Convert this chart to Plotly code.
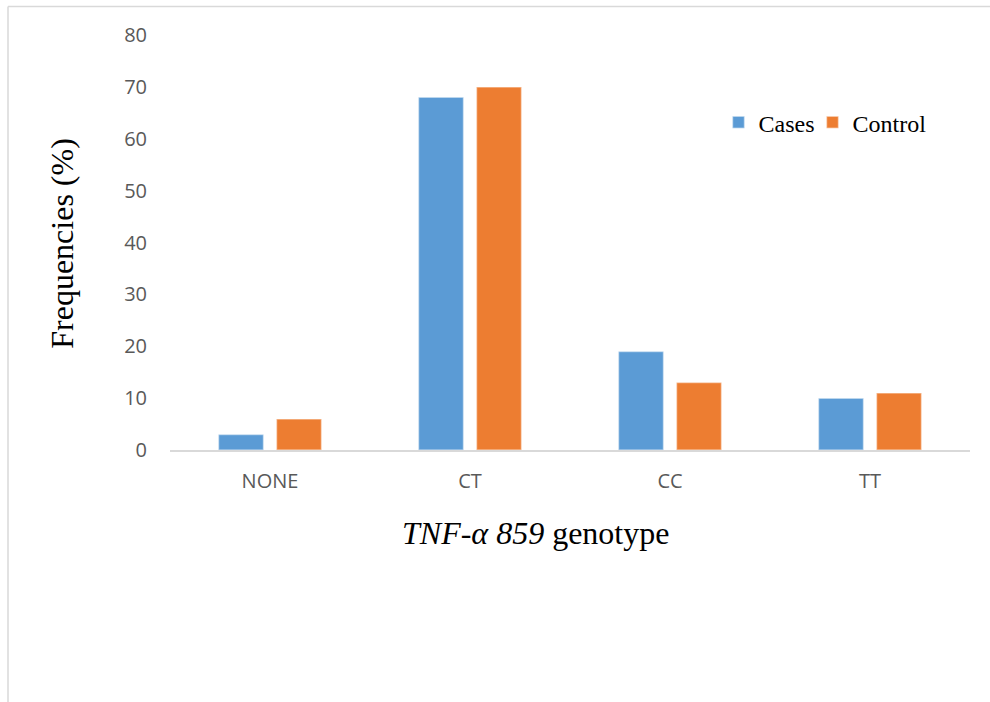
import plotly.graph_objects as go

# Genotype categories and frequency (%) per group
genotypes = ["NONE", "CT", "CC", "TT"]
cases = [3, 68, 19, 10]
control = [6, 70, 13, 11]
y_ticks = [0, 10, 20, 30, 40, 50, 60, 70, 80]

BLUE = "#5B9BD5"
ORANGE = "#ED7D31"
SERIF = "Liberation Serif, Times New Roman, serif"
SANS = "Open Sans, Calibri, sans-serif"

fig = go.Figure()
fig.add_trace(go.Bar(
    x=genotypes, y=cases, name="Cases", legend="legend",
    marker=dict(color=BLUE, line=dict(color="rgba(255,255,255,0.45)", width=1.5)),
))
fig.add_trace(go.Bar(
    x=genotypes, y=control, name="Control", legend="legend2",
    marker=dict(color=ORANGE, line=dict(color="rgba(255,255,255,0.45)", width=1.5)),
))

# frame lines along the top and left edge of the figure
fig.add_shape(type="line", xref="paper", yref="paper",
              x0=-0.2025, x1=1.03, y0=1.0688, y1=1.0688,
              line=dict(color="#d9d9d9", width=1.5))
fig.add_shape(type="line", xref="paper", yref="paper",
              x0=-0.2025, x1=-0.2025, y0=1.0688, y1=-0.61,
              line=dict(color="#d9d9d9", width=1.5))

fig.add_annotation(
    text="Frequencies (%)", textangle=-90, showarrow=False,
    xref="paper", yref="paper", x=(62 - 170) / 800, y=(450 - 244) / 414.5,
    xanchor="center", yanchor="middle",
    font=dict(family=SERIF, size=32, color="black"),
)
fig.add_annotation(
    text="<i>TNF-α 859</i> genotype", showarrow=False,
    xref="paper", yref="paper", x=(535 - 170) / 800, y=(450 - 533) / 414.5,
    xanchor="center", yanchor="middle",
    font=dict(family=SERIF, size=32, color="black"),
)

legend_style = dict(
    orientation="h", xanchor="left", yanchor="middle",
    y=(450 - 123) / 414.5,
    font=dict(family=SERIF, size=24, color="black"),
    itemwidth=30, bgcolor="rgba(0,0,0,0)",
)

fig.update_layout(
    width=990, height=702,
    margin=dict(l=170, r=20, t=35, b=252),
    paper_bgcolor="white", plot_bgcolor="white",
    barmode="group", bargap=0.42, bargroupgap=0.224,
    showlegend=True,
    legend=dict(x=(718.5 - 170) / 800, **legend_style),
    legend2=dict(x=(812.5 - 170) / 800, **legend_style),
    xaxis=dict(
        showgrid=False, zeroline=False, showline=True, linecolor="#d9d9d9", linewidth=1.5,
        ticks="", tickfont=dict(family=SANS, size=20, color="#595959"),
        ticklabelstandoff=12,
    ),
    yaxis=dict(
        range=[0, 80], tickvals=y_ticks, showgrid=False, zeroline=False, showline=False,
        ticks="", tickfont=dict(family=SANS, size=20, color="#595959"),
        ticklabelstandoff=22,
    ),
)

fig.write_html("out.html")
